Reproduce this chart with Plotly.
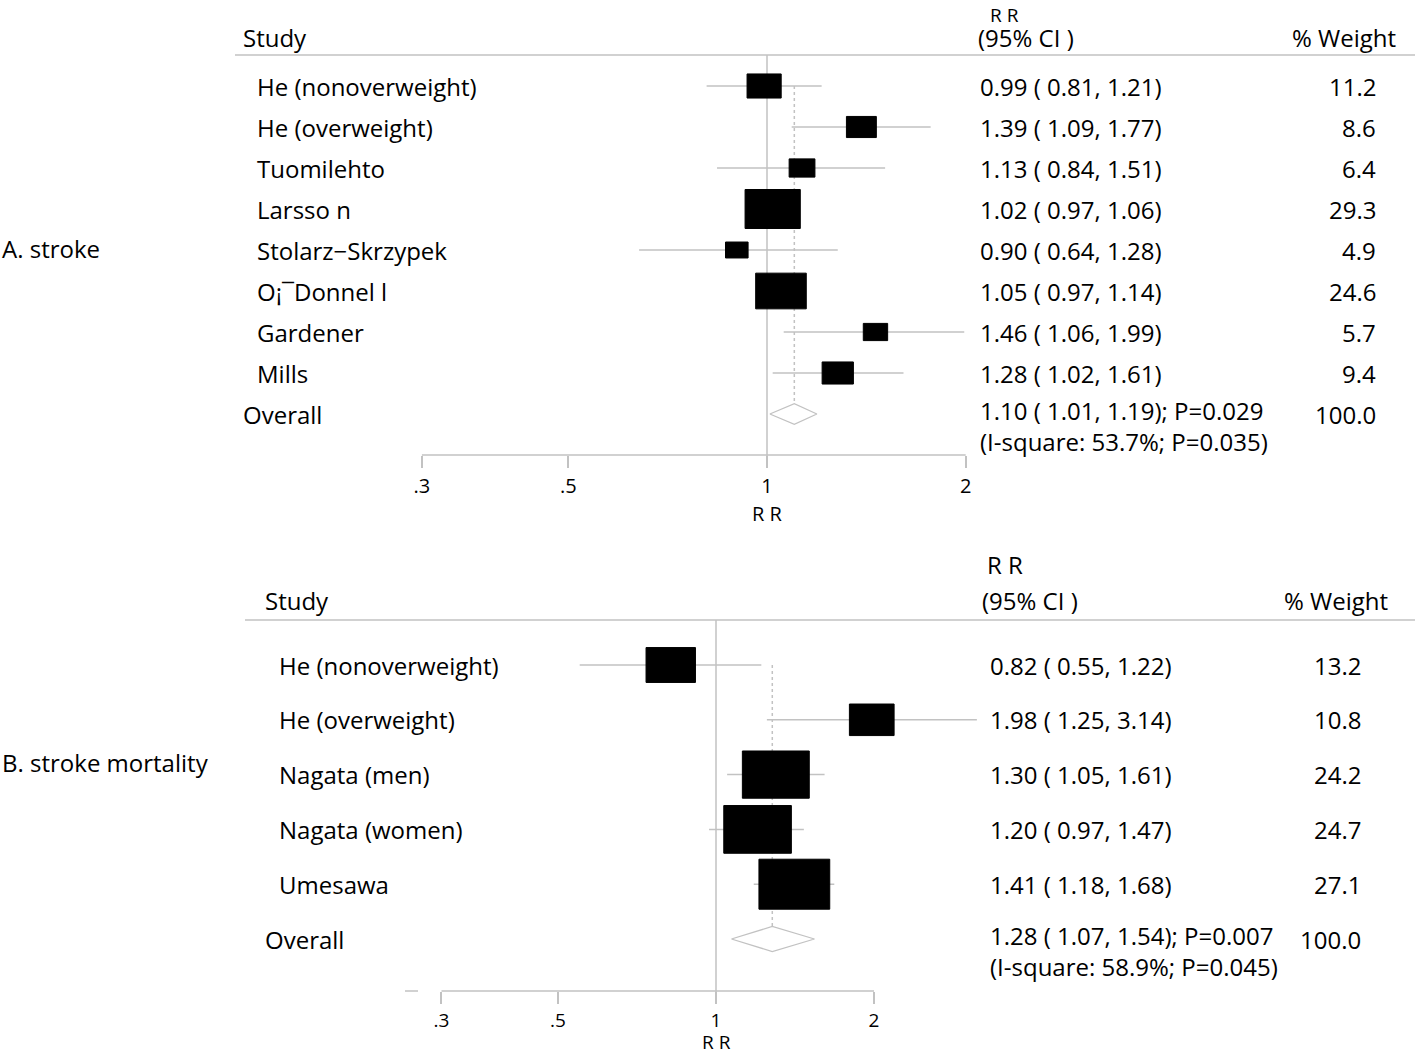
import numpy as np
import plotly.graph_objects as go

# ---------------- data ----------------
a_studies = ["He (nonoverweight)", "He (overweight)", "Tuomilehto", "Larsso n",
             "Stolarz\u2212Skrzypek", "O\u00a1\u00afDonnel l", "Gardener", "Mills"]
a_rr = [0.99, 1.39, 1.13, 1.02, 0.90, 1.05, 1.46, 1.28]
a_lo = [0.81, 1.09, 0.84, 0.97, 0.64, 0.97, 1.06, 1.02]
a_hi = [1.21, 1.77, 1.51, 1.06, 1.28, 1.14, 1.99, 1.61]
a_weight = [11.2, 8.6, 6.4, 29.3, 4.9, 24.6, 5.7, 9.4]
a_overall = [1.10, 1.01, 1.19]
a_overall_p = "0.029"
a_isq = "53.7%"
a_het_p = "0.035"

b_studies = ["He (nonoverweight)", "He (overweight)", "Nagata (men)", "Nagata (women)", "Umesawa"]
b_rr = [0.82, 1.98, 1.30, 1.20, 1.41]
b_lo = [0.55, 1.25, 1.05, 0.97, 1.18]
b_hi = [1.22, 3.14, 1.61, 1.47, 1.68]
b_weight = [13.2, 10.8, 24.2, 24.7, 27.1]
b_overall = [1.28, 1.07, 1.54]
b_overall_p = "0.007"
b_isq = "58.9%"
b_het_p = "0.045"

tick_vals = [0.3, 0.5, 1, 2]
tick_text = [".3", ".5", "1", "2"]

# ---------------- style ----------------
W, H = 1418, 1057
FONT = "Open Sans"
FS = 24
GRAY = "#c2c2c2"
L = np.log10

fig = go.Figure()
shapes = []
annotations = []


def px_x(p):
    return p / W


def px_y(p):
    return 1 - p / H


def panel(xa, ya, studies, rr, lo, hi, weight, overall, op, isq, hp,
          label, label_y, cfg):
    n = len(studies)
    xr = xa.replace("axis", "")
    yr = ya.replace("axis", "")
    # CI lines
    for i in range(n):
        fig.add_trace(go.Scatter(x=[L(lo[i]), L(hi[i])], y=[i, i], mode="lines",
                                 line=dict(color=GRAY, width=1.5), xaxis=xr, yaxis=yr,
                                 showlegend=False, hoverinfo="skip"))
    # null line
    shapes.append(dict(type="line", xref=xr, yref="paper", x0=0, x1=0,
                       y0=px_y(cfg["null_top"]), y1=px_y(cfg["axis_y"] + 12),
                       line=dict(color=GRAY, width=1.5), layer="above"))
    # boxes
    for i in range(n):
        s = np.sqrt(weight[i])
        bw, bh = cfg["kw"] * s, cfg["kh"] * s
        shapes.append(dict(type="rect", xref=xr, yref=yr,
                           xsizemode="pixel", xanchor=L(rr[i]), x0=-bw / 2, x1=bw / 2,
                           ysizemode="pixel", yanchor=i, y0=-bh / 2, y1=bh / 2,
                           fillcolor="black", line=dict(color="black", width=1),
                           layer="above"))
    # overall dotted line + diamond
    dh = cfg["dh"]
    fig.add_trace(go.Scatter(x=[L(overall[0]), L(overall[0])], y=[0, n - dh], mode="lines",
                             line=dict(color=GRAY, width=1.5, dash="dot"), xaxis=xr, yaxis=yr,
                             showlegend=False, hoverinfo="skip"))
    fig.add_trace(go.Scatter(x=[L(overall[1]), L(overall[0]), L(overall[2]), L(overall[0]), L(overall[1])],
                             y=[n, n - dh, n, n + dh, n], mode="lines",
                             line=dict(color=GRAY, width=1.3), fill="toself", fillcolor="white",
                             xaxis=xr, yaxis=yr, showlegend=False, hoverinfo="skip"))
    # axis line
    shapes.append(dict(type="line", xref=xr, yref="paper", x0=L(tick_vals[0]), x1=L(tick_vals[-1]),
                       y0=px_y(cfg["axis_y"]), y1=px_y(cfg["axis_y"]),
                       line=dict(color=GRAY, width=1.5)))
    # separator
    shapes.append(dict(type="line", xref="paper", yref="paper", x0=px_x(cfg["sep_x0"]), x1=px_x(1415),
                       y0=px_y(cfg["sep_y"]), y1=px_y(cfg["sep_y"]),
                       line=dict(color=GRAY, width=1.5)))

    def txt(x, y, t, xanchor="left", yref=yr, xref="paper", size=FS, yanchor="middle"):
        annotations.append(dict(x=x, y=y, xref=xref, yref=yref, text=t, showarrow=False,
                                xanchor=xanchor, yanchor=yanchor, align="left",
                                font=dict(family=FONT, size=size, color="black")))
    hr = cfg["hdr_row"]
    txt(px_x(cfg["study_hdr_x"]), hr, "Study")
    if cfg["rr_top"]:
        txt(px_x(cfg["rr_hdr_x"]), 1, "R R", yref="paper", size=19, yanchor="top")
    else:
        txt(px_x(cfg["rr_hdr_x"]), hr - cfg["rr_gap"], "R R")
    txt(px_x(cfg["ci_hdr_x"]), hr, "(95% CI )")
    txt(px_x(cfg["wt_hdr_x"]), hr, "% Weight")
    for i in range(n):
        txt(px_x(cfg["lab_x"]), i, studies[i])
        txt(px_x(cfg["ci_x"]), i, f"{rr[i]:.2f} ( {lo[i]:.2f}, {hi[i]:.2f})")
        txt(px_x(cfg["wt_x"]), i, f"{weight[i]:.1f}", xanchor="right")
    txt(px_x(cfg["study_hdr_x"]), n, "Overall")
    txt(px_x(cfg["ci_x"]), n + cfg["line2"] / 2,
        f"{overall[0]:.2f} ( {overall[1]:.2f}, {overall[2]:.2f}); P={op}<br>"
        f"(I-square: {isq}; P={hp})")
    txt(px_x(cfg["wt_x"]), n, f"{100:.1f}", xanchor="right")
    # panel label
    annotations.append(dict(x=0, y=px_y(label_y), xref="paper", yref="paper", text=label,
                            showarrow=False, xanchor="left", yanchor="middle",
                            font=dict(family=FONT, size=FS, color="black")))
    # axis title
    annotations.append(dict(x=0, y=px_y(cfg["title_y"]), xref=xr, yref="paper", text="R R",
                            showarrow=False, xanchor="center", yanchor=cfg["title_anchor"],
                            font=dict(family=FONT, size=cfg["ax_fs"], color="black")))


cfgA = dict(x1=767, ppu=660, row0=86, row_h=41, ytop=0, ybot=530, axis_y=455, title_y=514,
            title_anchor="middle", ax_fs=20,
            null_top=55, kw=10.2, kh=7.2, dh=0.25, sep_y=55, sep_x0=235,
            hdr_row=(37 - 86) / 41, rr_top=True, rr_gap=0, study_hdr_x=241, rr_hdr_x=988,
            ci_hdr_x=976, wt_hdr_x=1290, lab_x=255, ci_x=978, wt_x=1378, line2=24 / 41)
cfgB = dict(x1=716, ppu=525, row0=665, row_h=54.8, ytop=530, ybot=1057, axis_y=991, title_y=1057,
            title_anchor="bottom", ax_fs=19,
            null_top=620, kw=13.6, kh=9.6, dh=0.23, sep_y=620, sep_x0=245,
            hdr_row=(600 - 665) / 54.8, rr_top=False, rr_gap=36 / 54.8, study_hdr_x=263,
            rr_hdr_x=985, ci_hdr_x=980, wt_hdr_x=1282, lab_x=277, ci_x=988, wt_x=1363,
            line2=24 / 54.8)

panel("xaxis", "yaxis", a_studies, a_rr, a_lo, a_hi, a_weight, a_overall,
      a_overall_p, a_isq, a_het_p, "A. stroke", 249, cfgA)
panel("xaxis2", "yaxis2", b_studies, b_rr, b_lo, b_hi, b_weight, b_overall,
      b_overall_p, b_isq, b_het_p, "B. stroke mortality", 762, cfgB)

# stray short dash left of panel B axis
shapes.append(dict(type="line", xref="paper", yref="paper", x0=px_x(405), x1=px_x(418),
                   y0=px_y(cfgB["axis_y"]), y1=px_y(cfgB["axis_y"]),
                   line=dict(color=GRAY, width=1.5)))


def xaxis_cfg(cfg, standoff):
    return dict(domain=[0, 1], range=[-cfg["x1"] / cfg["ppu"], (W - cfg["x1"]) / cfg["ppu"]],
                anchor="free", position=px_y(cfg["axis_y"]), showline=False, zeroline=False,
                showgrid=False, tickmode="array", tickvals=[L(v) for v in tick_vals],
                ticktext=tick_text, ticks="outside", ticklen=12, tickwidth=1.5, tickcolor=GRAY,
                ticklabelstandoff=standoff,
                tickfont=dict(family=FONT, size=cfg["ax_fs"], color="black"), fixedrange=True)


def yaxis_cfg(cfg):
    return dict(domain=[px_y(cfg["ybot"]), px_y(cfg["ytop"])],
                range=[(cfg["ybot"] - cfg["row0"]) / cfg["row_h"], (cfg["ytop"] - cfg["row0"]) / cfg["row_h"]],
                visible=False, fixedrange=True)


fig.update_layout(
    width=W, height=H, margin=dict(l=0, r=0, t=0, b=0),
    paper_bgcolor="white", plot_bgcolor="rgba(0,0,0,0)",
    font=dict(family=FONT, size=FS, color="black"),
    xaxis=xaxis_cfg(cfgA, 1), yaxis=yaxis_cfg(cfgA),
    xaxis2=xaxis_cfg(cfgB, 0), yaxis2=yaxis_cfg(cfgB),
    shapes=shapes, annotations=annotations, showlegend=False,
)

fig.write_html("out.html", config={"displayModeBar": False},
               post_script="document.body.style.margin='0';document.body.style.overflow='hidden';")
